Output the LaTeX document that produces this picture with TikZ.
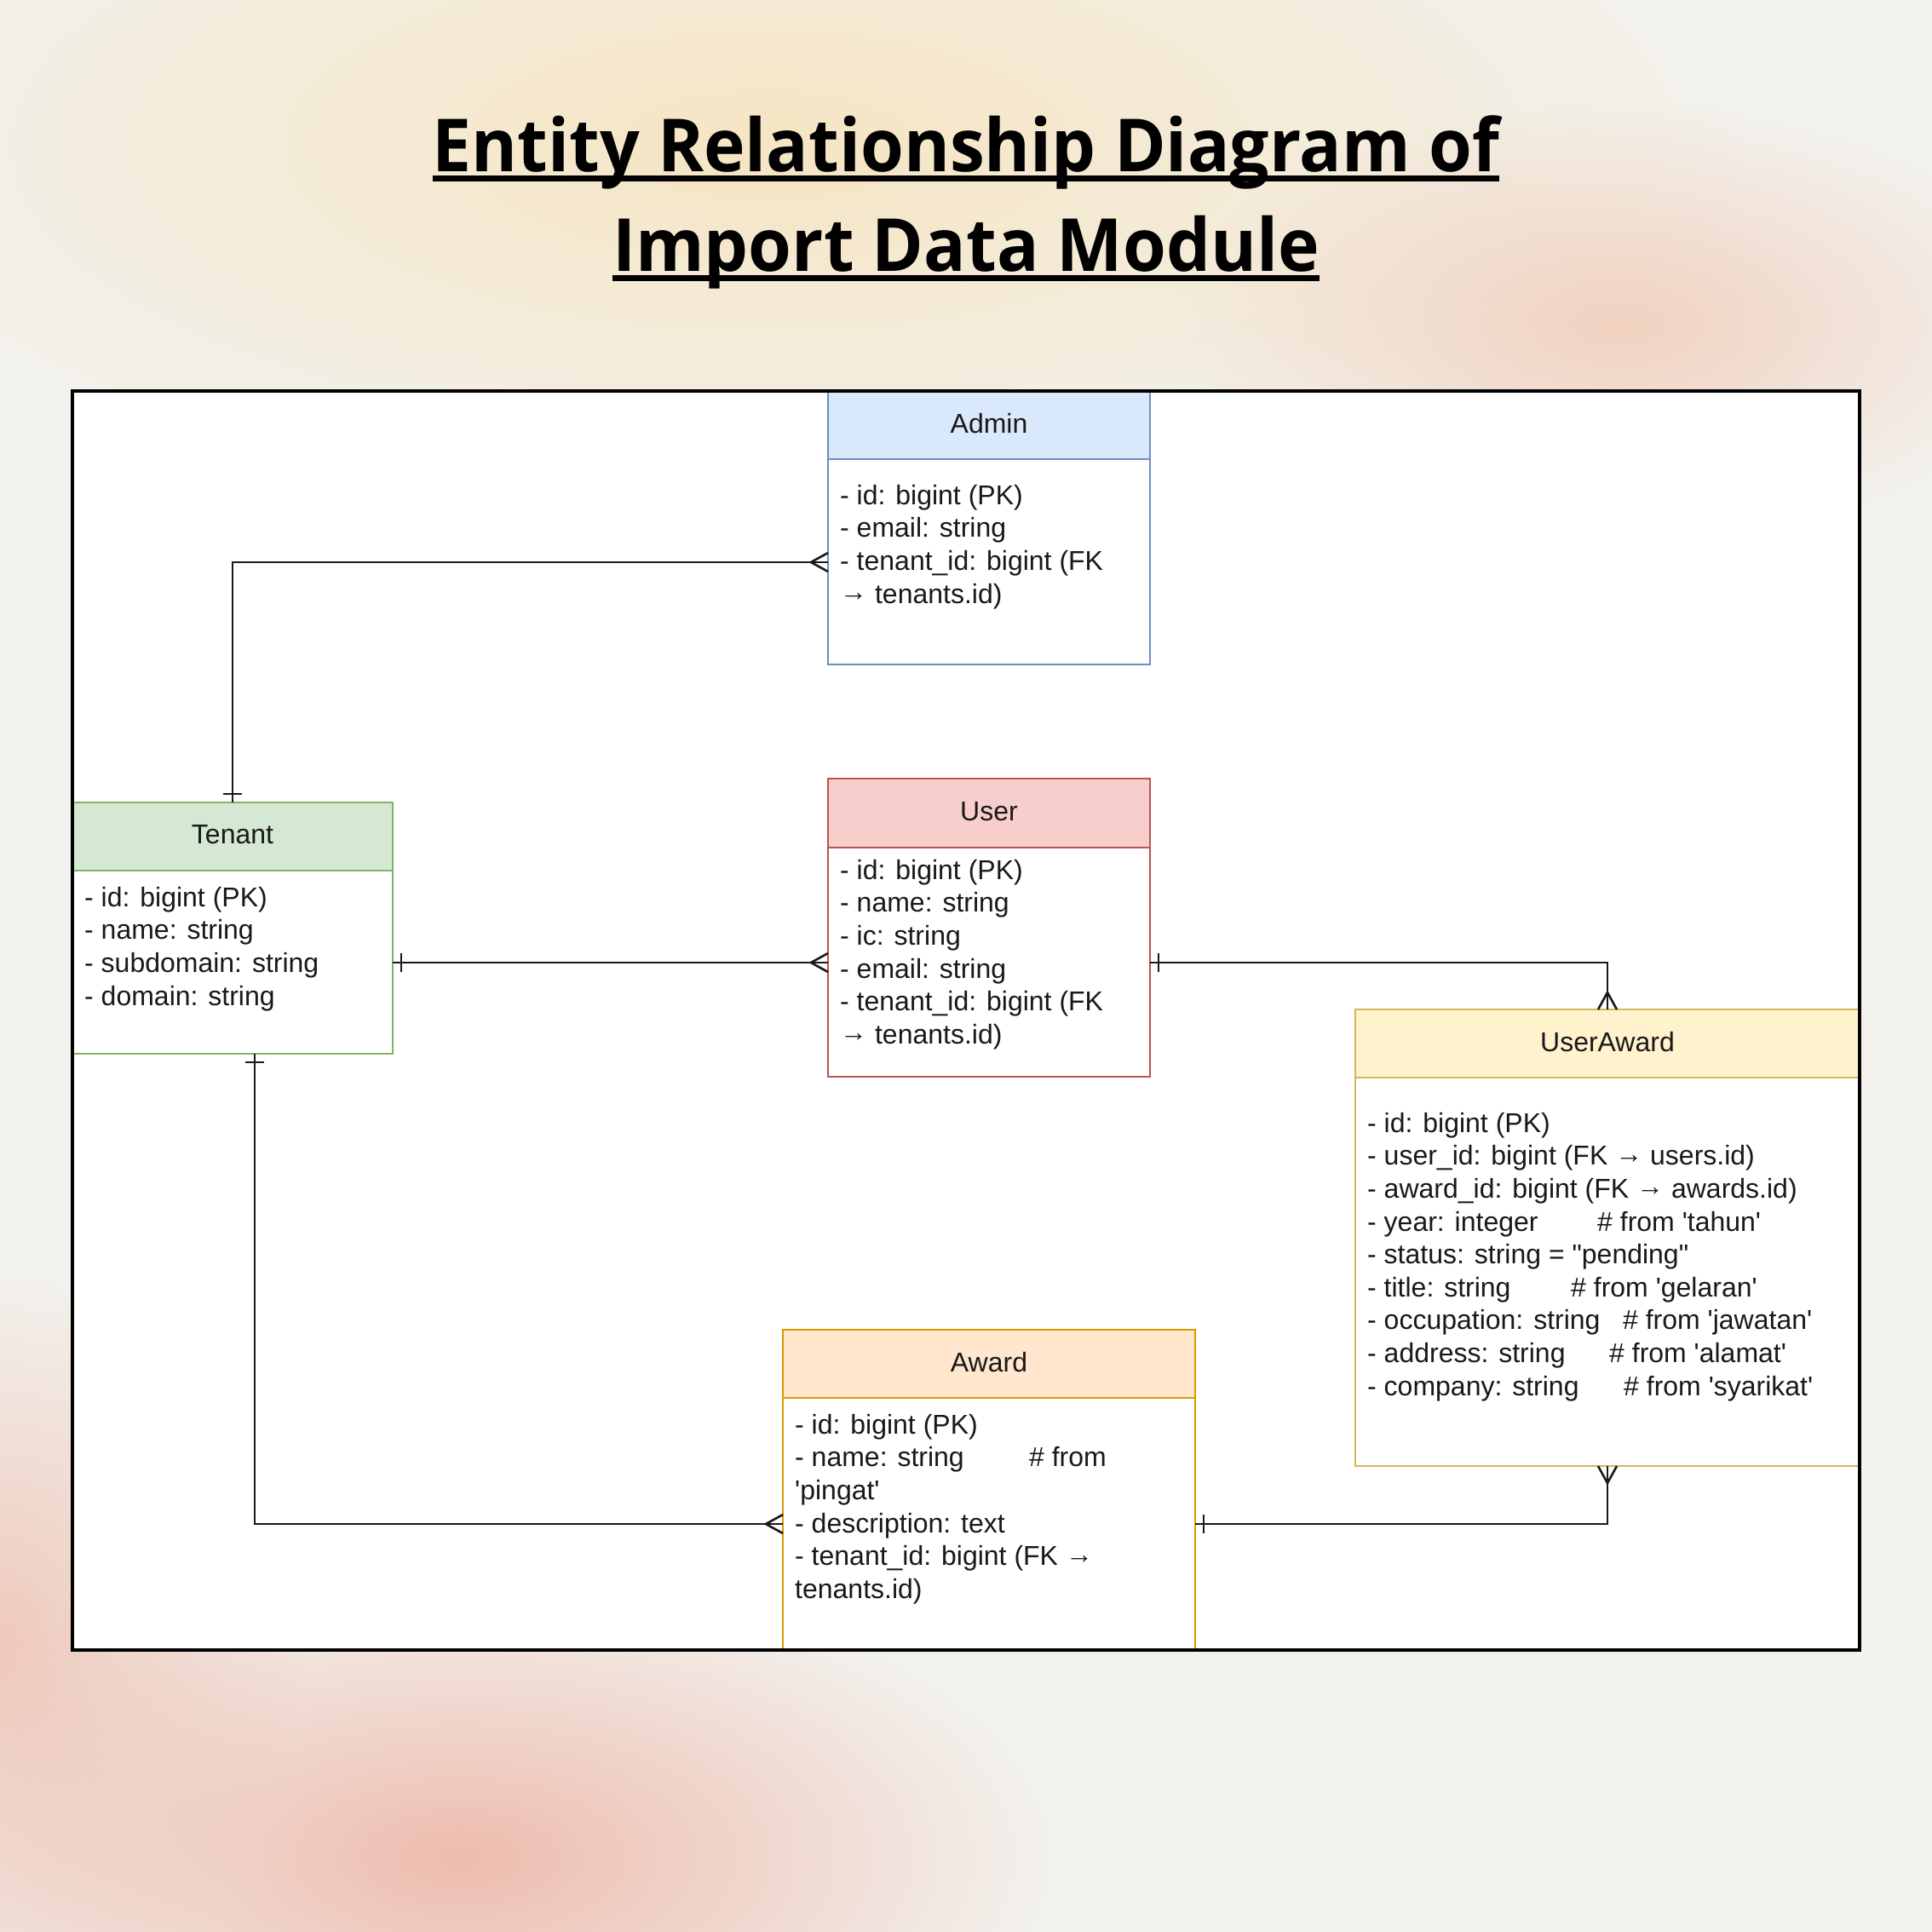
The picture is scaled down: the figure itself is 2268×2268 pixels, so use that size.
\documentclass[tikz,border=0pt]{standalone}
\usepackage{fontspec}
\newfontfamily\erfont{Liberation Sans}
\newfontfamily\titlefont{Open Sans}[FakeStretch=0.955]
\usetikzlibrary{fadings,arrows.meta}
\newcommand{\fkarrow}{\raisebox{2.5pt}{→}}

\tikzfading[name=blobfade, inner color=transparent!0, outer color=transparent!100]

\pgfdeclarearrow{
  name = ERmany,
  parameters = {\the\pgfarrowlength,\the\pgfarrowwidth},
  setup code = {
    \pgfarrowssettipend{0pt}
    \pgfarrowssetlineend{0pt}
    \pgfarrowssetbackend{-\pgfarrowlength}
    \pgfarrowssavethe\pgfarrowlength
    \pgfarrowssavethe\pgfarrowwidth
  },
  drawing code = {
    \pgfpathmoveto{\pgfqpoint{0pt}{.5\pgfarrowwidth}}
    \pgfpathlineto{\pgfqpoint{-\pgfarrowlength}{0pt}}
    \pgfpathlineto{\pgfqpoint{0pt}{-.5\pgfarrowwidth}}
    \pgfusepathqstroke
  },
  defaults = {length=20pt, width=22pt}
}
\pgfdeclarearrow{
  name = ERone,
  parameters = {\the\pgfarrowlength,\the\pgfarrowwidth},
  setup code = {
    \pgfarrowssettipend{0pt}
    \pgfarrowssetlineend{0pt}
    \pgfarrowssetbackend{-\pgfarrowlength}
    \pgfarrowssavethe\pgfarrowlength
    \pgfarrowssavethe\pgfarrowwidth
  },
  drawing code = {
    \pgfpathmoveto{\pgfqpoint{-\pgfarrowlength}{.5\pgfarrowwidth}}
    \pgfpathlineto{\pgfqpoint{-\pgfarrowlength}{-.5\pgfarrowwidth}}
    \pgfusepathqstroke
  },
  defaults = {length=10pt, width=22pt}
}

\definecolor{adminF}{HTML}{DAE8FC}\definecolor{adminS}{HTML}{6C8EBF}
\definecolor{userF}{HTML}{F8CECC}\definecolor{userS}{HTML}{B85450}
\definecolor{tenF}{HTML}{D5E8D4}\definecolor{tenS}{HTML}{82B366}
\definecolor{uaF}{HTML}{FFF2CC}\definecolor{uaS}{HTML}{D6B656}
\definecolor{awF}{HTML}{FFE6CC}\definecolor{awS}{HTML}{D79B00}
\definecolor{bgBase}{HTML}{F3F2EE}
\definecolor{bgCream}{HTML}{F6E5C3}
\definecolor{bgPeach}{HTML}{F1D2C0}
\definecolor{bgPink}{HTML}{EEBCAE}
\definecolor{bgLeft}{HTML}{EFC9BB}

\tikzset{
  entbox/.style={draw=#1, line width=2.7pt, fill=white, inner sep=0pt, outer sep=0pt, rectangle},
  hdrbox/.style 2 args={draw=#1, fill=#2, line width=2.7pt, inner sep=0pt, outer sep=0pt, rectangle, anchor=north},
  etitle/.style={inner sep=0pt, yshift=2pt, font=\erfont\fontsize{32}{38.6}\selectfont, text=black!90},
  attr/.style={anchor=north west, inner sep=0pt, align=left, font=\erfont\fontsize{32}{38.6}\selectfont, text=black!90},
  conn/.style={draw=black!90, line width=2.6pt},
  ttl/.style={inner sep=0pt, anchor=base, font=\titlefont\bfseries\fontsize{86}{100}\selectfont},
  uline/.style={line width=7pt},
  blob/.style={fill=#1, path fading=blobfade}
}

\begin{document}
\begin{tikzpicture}[x=1pt,y=-1pt]
\useasboundingbox (0,0) rectangle (2268,2268);
% background
\fill[bgBase] (0,0) rectangle (2268,2268);
\begin{scope}
\clip (0,0) rectangle (2268,2268);
\path[blob=bgCream] (900,170) ellipse [x radius=1150, y radius=440];
\path[blob=bgPeach] (1900,380) ellipse [x radius=520, y radius=260];
\path[blob=bgLeft] (0,1930) ellipse [x radius=360, y radius=440];
\path[blob=bgPink] (540,2180) ellipse [x radius=700, y radius=340];
\end{scope}

% title
\node[ttl] (title1) at (1134,201) {Entity Relationship Diagram of};
\node[ttl] (title2) at (1134,318) {Import Data Module};
\draw[uline] ([yshift=-8.5pt]title1.base west) -- ([yshift=-8.5pt]title1.base east);
\draw[uline] ([yshift=-8pt]title2.base west) -- ([yshift=-8pt]title2.base east);

% frame
\node[fill=white, inner sep=0pt, outer sep=0pt, minimum width=2098pt, minimum height=1478pt] (frame) at (1134,1198) {};

% Admin
\node[entbox=adminS, minimum width=378pt, minimum height=321pt] (admin) at (1161,619.5) {};
\node[hdrbox={adminS}{adminF}, minimum width=378pt, minimum height=80pt] (adminH) at (admin.north) {};
\node[etitle] (adminT) at (adminH.center) {Admin};
\node[attr] (adminA) at (986,566) {\rule{0pt}{26pt}- id: bigint (PK)\\- email: string\\- tenant\_id: bigint (FK\\\fkarrow{} tenants.id)};

% User
\node[entbox=userS, minimum width=378pt, minimum height=350pt] (user) at (1161,1089) {};
\node[hdrbox={userS}{userF}, minimum width=378pt, minimum height=81pt] (userH) at (user.north) {};
\node[etitle] (userT) at (userH.center) {User};
\node[attr] (userA) at (986,1006) {\rule{0pt}{26pt}- id: bigint (PK)\\- name: string\\- ic: string\\- email: string\\- tenant\_id: bigint (FK\\\fkarrow{} tenants.id)};

% Tenant
\node[entbox=tenS, minimum width=376pt, minimum height=295pt] (tenant) at (273,1089.5) {};
\node[hdrbox={tenS}{tenF}, minimum width=376pt, minimum height=80pt] (tenantH) at (tenant.north) {};
\node[etitle] (tenantT) at (tenantH.center) {Tenant};
\node[attr] (tenantA) at (99,1038) {\rule{0pt}{26pt}- id: bigint (PK)\\- name: string\\- subdomain: string\\- domain: string};

% UserAward
\node[entbox=uaS, minimum width=592pt, minimum height=536pt] (useraward) at (1887,1453) {};
\node[hdrbox={uaS}{uaF}, minimum width=592pt, minimum height=80pt] (userawardH) at (useraward.north) {};
\node[etitle] (userawardT) at (userawardH.center) {UserAward};
\node[attr] (userawardA) at (1605,1303) {\rule{0pt}{26pt}- id: bigint (PK)\\
- user\_id: bigint (FK \fkarrow{} users.id)\\
- award\_id: bigint (FK \fkarrow{} awards.id)\\
\makebox[270pt][l]{- year: integer}\# from \textquotesingle tahun\textquotesingle\\
- status: string = \textquotedbl pending\textquotedbl\\
\makebox[239pt][l]{- title: string}\# from \textquotesingle gelaran\textquotesingle\\
\makebox[300pt][l]{- occupation: string}\# from \textquotesingle jawatan\textquotesingle\\
\makebox[284pt][l]{- address: string}\# from \textquotesingle alamat\textquotesingle\\
\makebox[301pt][l]{- company: string}\# from \textquotesingle syarikat\textquotesingle};

% Award
\node[entbox=awS, minimum width=484pt, minimum height=376pt] (award) at (1161,1749) {};
\node[hdrbox={awS}{awF}, minimum width=484pt, minimum height=80pt] (awardH) at (award.north) {};
\node[etitle] (awardT) at (awardH.center) {Award};
\node[attr] (awardA) at (933,1657) {\rule{0pt}{26pt}- id: bigint (PK)\\
\makebox[275pt][l]{- name: string}\# from\\
\textquotesingle pingat\textquotesingle\\
- description: text\\
- tenant\_id: bigint (FK \fkarrow\\
tenants.id)};

% connectors
\draw[conn, ERone-ERmany] (tenant.north) |- ([yshift=-40.5pt]admin.west);
\draw[conn, ERone-ERmany] ([yshift=-40.5pt]tenant.east) -- ([yshift=-41pt]user.west);
\draw[conn, ERone-ERmany] ([xshift=26pt]tenant.south) |- ([yshift=-40pt]award.west);
\draw[conn, ERone-ERmany] ([yshift=-41pt]user.east) -| (useraward.north);
\draw[conn, ERone-ERmany] ([yshift=-40pt]award.east) -| (useraward.south);

% frame border on top
\draw[line width=4pt] (frame.north west) rectangle (frame.south east);
\end{tikzpicture}
\end{document}
